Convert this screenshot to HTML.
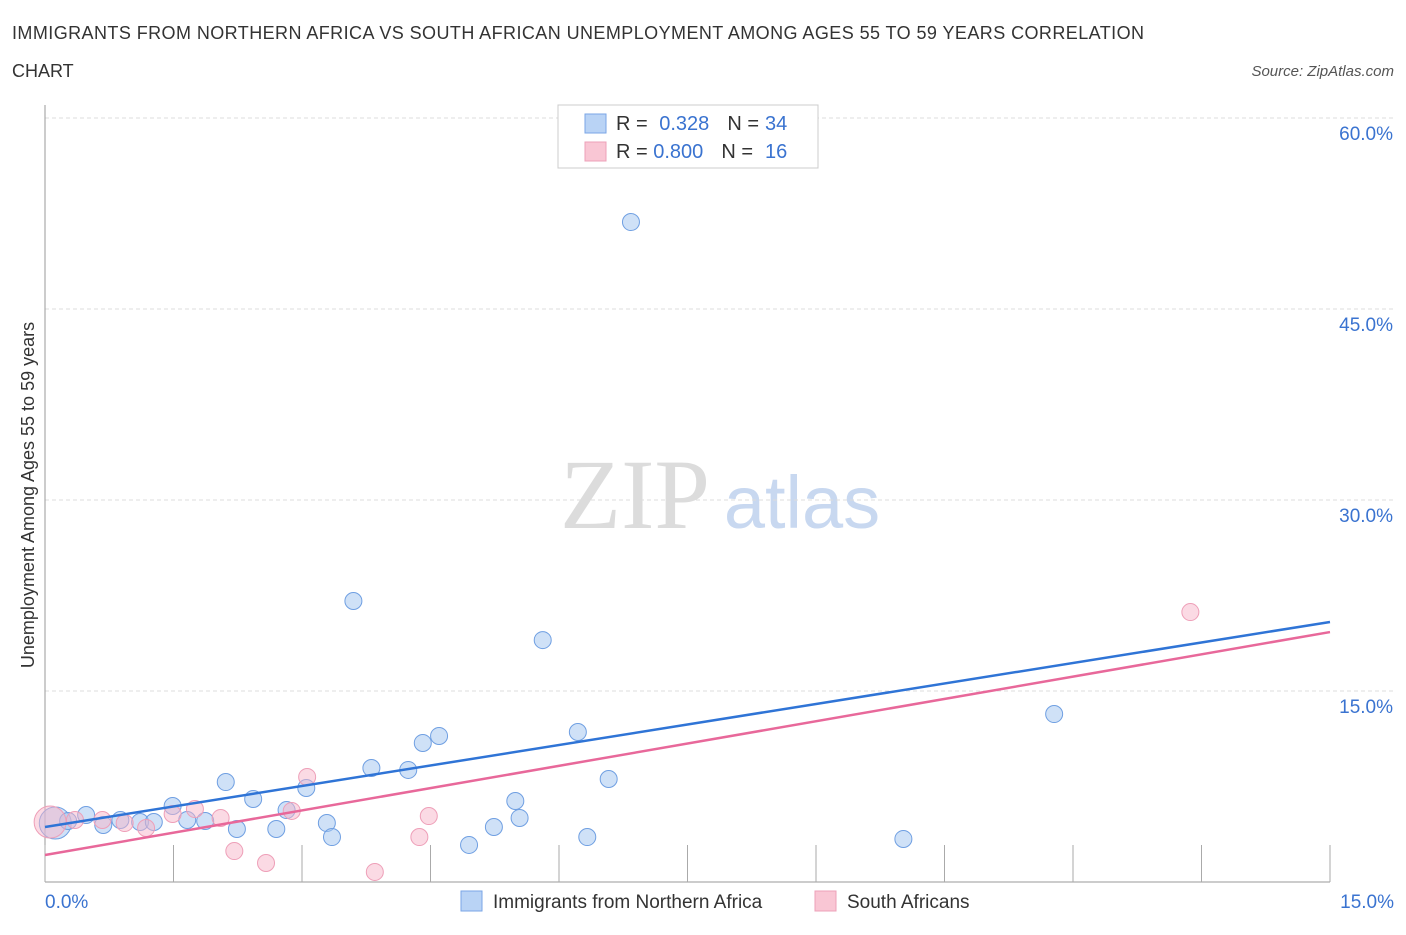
<!DOCTYPE html>
<html><head><meta charset="utf-8"><style>
body{margin:0;background:#fff;font-family:"Liberation Sans",sans-serif;}
</style></head><body>
<svg id="chart" width="1406" height="930" font-family="Liberation Sans, sans-serif">
<text x="12" y="39" font-size="18" fill="#333" textLength="1132" lengthAdjust="spacing">IMMIGRANTS FROM NORTHERN AFRICA VS SOUTH AFRICAN UNEMPLOYMENT AMONG AGES 55 TO 59 YEARS CORRELATION</text>
<text x="12" y="77" font-size="18" fill="#333">CHART</text>
<text x="1394" y="76" font-size="15" fill="#555" font-style="italic" text-anchor="end">Source: ZipAtlas.com</text>
<text x="635" y="528" font-size="100" fill="#dcdcdc" style="font-family:'Liberation Serif',serif" text-anchor="middle">ZIP</text>
<text x="802" y="528" font-size="74" fill="#c8d8f0" text-anchor="middle">atlas</text>
<text transform="translate(34,495) rotate(-90)" font-size="18" fill="#333" text-anchor="middle">Unemployment Among Ages 55 to 59 years</text>
<g id="grid"></g><g id="marks"></g>
<g>
<rect x="558" y="105" width="260" height="63" fill="#fff" stroke="#ccc"/>
<rect x="585" y="114" width="21" height="19" fill="#b9d3f5" stroke="#7aa6e6"/>
<rect x="585" y="142" width="21" height="19" fill="#f9c6d4" stroke="#eda0b8"/>
<text x="616" y="130" font-size="20" fill="#333">R = <tspan fill="#3a73d0" dx="6">0.328</tspan><tspan fill="#333" dx="18">N =</tspan><tspan fill="#3a73d0" dx="6">34</tspan></text>
<text x="616" y="158" font-size="20" fill="#333">R = <tspan fill="#3a73d0">0.800</tspan><tspan fill="#333" dx="18">N =</tspan><tspan fill="#3a73d0" dx="12">16</tspan></text>
</g>
<g>
<rect x="461" y="891" width="21" height="20" fill="#b9d3f5" stroke="#7aa6e6"/>
<text x="493" y="908" font-size="19" fill="#333">Immigrants from Northern Africa</text>
<rect x="815" y="891" width="21" height="20" fill="#f9c6d4" stroke="#eda0b8"/>
<text x="847" y="908" font-size="19" fill="#333">South Africans</text>
</g>
</svg>
<script>
const blueX=[0.12,0.27,0.48,0.68,0.88,1.11,1.27,1.49,1.66,1.87,2.11,2.24,2.43,2.70,2.82,3.05,3.29,3.35,3.60,3.81,4.24,4.41,4.60,4.95,5.24,5.49,5.54,5.81,6.22,6.33,6.58,6.84,10.02,11.78];
const blueY=[4.63,4.79,5.26,4.48,4.87,4.71,4.71,5.97,4.87,4.79,7.85,4.16,6.52,4.16,5.65,7.38,4.63,3.53,22.07,8.95,8.80,10.92,11.47,2.91,4.32,6.36,5.03,19.0,11.78,3.53,8.09,51.83,3.38,13.19];
const pinkX=[0.06,0.35,0.67,0.93,1.18,1.49,1.75,2.05,2.21,2.58,2.88,3.06,3.85,4.37,4.48,13.37];
const pinkY=[4.71,4.87,4.87,4.63,4.24,5.34,5.73,5.03,2.43,1.49,5.58,8.25,0.79,3.53,5.18,21.2];
const blueTrend=[4.32,20.42];
const pinkTrend=[2.12,19.63];
const yTicks=[15,30,45,60];
const xTickVals=[0,1.5,3,4.5,6,7.5,9,10.5,12,13.5,15];
const NS="http://www.w3.org/2000/svg";
const sx=v=>45+v*(1285/15), sy=v=>882-v*(764/60);
const grid=document.getElementById('grid'), marks=document.getElementById('marks');
function mk(tag,attrs,parent){const e=document.createElementNS(NS,tag);for(const k in attrs)e.setAttribute(k,attrs[k]);parent.appendChild(e);return e;}
yTicks.forEach(t=>{
  const l=mk('line',{x1:45,x2:1394,y1:sy(t),y2:sy(t),stroke:'#ddd','stroke-dasharray':'4,3'},grid);
  
  
  const tx=mk('text',{x:1393,y:sy(t)+22,'font-size':19,fill:'#3a73d0','text-anchor':'end'},grid);
  tx.textContent=t.toFixed(1)+'%';
  
  
});
const ax=mk('line',{x1:45,x2:45,y1:105,y2:882,stroke:'#999'},grid);


const bx=mk('line',{x1:45,x2:1330,y1:882,y2:882,stroke:'#999'},grid);


xTickVals.forEach(t=>{
  const l=mk('line',{x1:sx(t),x2:sx(t),y1:845,y2:882,stroke:'#aaa'},grid);
  
  
});
[[0,'start',45],[15,'end',1394]].forEach(([v,a,x])=>{
  const tx=mk('text',{x:x,y:908,'font-size':19,fill:'#3a73d0','text-anchor':a},grid);
  tx.textContent=v.toFixed(1)+'%';
  
  
});
function pts(X,Y,fill,stroke,name){X.forEach((x,i)=>{
  const c=mk('circle',{cx:sx(x),cy:sy(Y[i]),r:(i===0?16:8.5),fill:fill,stroke:stroke,'stroke-width':1},marks);
  
  
});}
pts(blueX,blueY,'rgba(160,196,240,0.5)','#6f9fe2','northern-africa-point');
pts(pinkX,pinkY,'rgba(248,182,202,0.5)','#ee9fb8','south-africans-point');
const bl=mk('line',{x1:sx(0),y1:sy(blueTrend[0]),x2:sx(15),y2:sy(blueTrend[1]),stroke:'#2f74d6','stroke-width':2.5},marks);


const pl=mk('line',{x1:sx(0),y1:sy(pinkTrend[0]),x2:sx(15),y2:sy(pinkTrend[1]),stroke:'#e8689a','stroke-width':2.5},marks);


</script>
</body></html>
